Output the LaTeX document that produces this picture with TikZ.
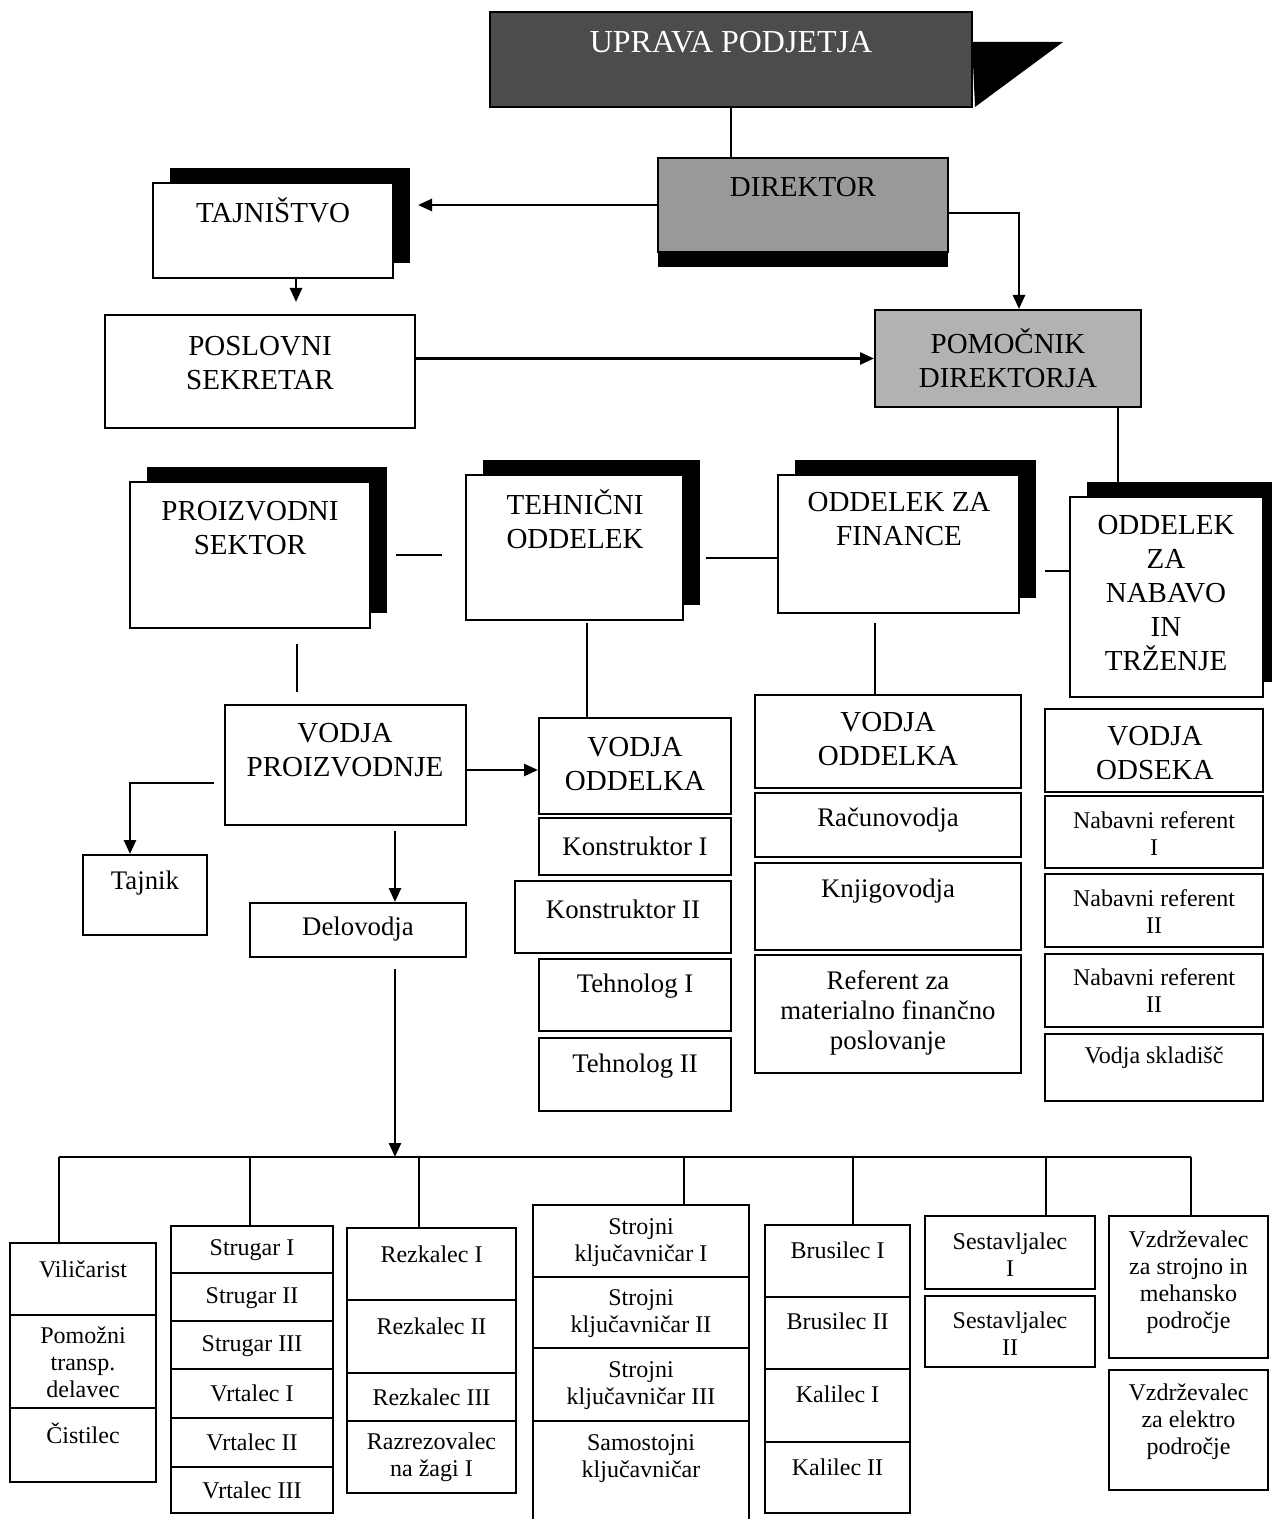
\documentclass[tikz,border=0pt]{standalone}
\usepackage{fontspec}
\setmainfont{Liberation Serif}
\usetikzlibrary{fit,shadows,arrows.meta,positioning}

\tikzset{
  box/.style={draw, line width=1pt, inner sep=0pt, fill=white},
  shadowed/.style={general shadow={fill=black, shadow xshift=8.5pt, shadow yshift=7.5pt}},
  big/.style={font=\fontsize{14.5}{17}\selectfont, align=center},
  mid/.style={font=\fontsize{13.4}{15}\selectfont, align=center},
  small/.style={font=\fontsize{12}{13.5}\selectfont, align=center},
  link/.style={line width=0.9pt},
  arr/.style={line width=1.3pt, -{Triangle[length=7pt,width=6pt]}},
}

\begin{document}
\begin{tikzpicture}[x=0.5pt, y=-0.5pt]
\useasboundingbox (0,0) rectangle (1271,1519);

% management
\fill (972,42) -- (1063,42) -- (975,107) -- cycle;
\node[box, fill=black!70, fit={(490,12)(972,107)}] (upr) {};
\node[big, font=\fontsize{16}{18}\selectfont, text=white] (upr-t) at (731,42) {UPRAVA PODJETJA};
\node[box, fill=black!40, general shadow={fill=black, shadow yshift=-7.5pt}, fit={(658,158)(948,252)}] (dir) {};
\node[big] (dir-t) at (803,187) {DIREKTOR};
\node[box, shadowed, fit={(153,183)(393,278)}] (taj) {};
\node[big] (taj-t) at (273,210) {TAJNIŠTVO};
\node[box, fit={(105,315)(415,428)}] (pos) {};
\node[big] (pos-t) at (260,363) {POSLOVNI\\SEKRETAR};
\node[box, fill=black!30, fit={(875,310)(1141,407)}] (pom) {};
\node[big] (pom-t) at (1008,358) {POMOČNIK\\DIREKTORJA};

% sectors
\node[box, shadowed, fit={(130,482)(370,628)}] (pro) {};
\node[big] (pro-t) at (250,528) {PROIZVODNI\\SEKTOR};
\node[box, shadowed, fit={(466,475)(683,620)}] (teh) {};
\node[big] (teh-t) at (575,519) {TEHNIČNI\\ODDELEK};
\node[box, shadowed, fit={(778,475)(1019,613)}] (fin) {};
\node[big] (fin-t) at (899,519) {ODDELEK ZA\\FINANCE};
\node[box, shadowed, fit={(1070,497)(1263,697)}] (nab) {};
\node[big] (nab-t) at (1166,593) {ODDELEK\\ZA\\NABAVO\\IN\\TRŽENJE};

\node[box, fit={(225,705)(466,825)}] (vpr) {};
\node[big] (vpr-t) at (345,750) {VODJA\\PROIZVODNJE};
\node[box, fit={(539,718)(731,814)}] (vo1) {};
\node[big] (vo1-t) at (635,764) {VODJA\\ODDELKA};
\node[box, fit={(755,695)(1021,788)}] (vo2) {};
\node[big] (vo2-t) at (888,739) {VODJA\\ODDELKA};
\node[box, fit={(1045,709)(1263,792)}] (vo3) {};
\node[big] (vo3-t) at (1155,753) {VODJA\\ODSEKA};

% staff
\foreach \nm/\xa/\ya/\xb/\yb/\yt/\lbl in {
  tjk/83/855/207/935/883/Tajnik,
  del/250/903/466/957/929/Delovodja,
  ko1/539/818/731/875/846/Konstruktor I,
  ko2/515/881/731/953/909/Konstruktor II,
  te1/539/959/731/1031/986/Tehnolog I,
  te2/539/1038/731/1111/1066/Tehnolog II,
  rac/755/793/1021/857/820/Računovodja,
  knj/755/863/1021/950/891/Knjigovodja,
  ref/755/955/1021/1073/1013/{Referent za\\materialno finančno\\poslovanje}}
{
  \node[box, fit={(\xa,\ya)(\xb,\yb)}] (\nm) {};
  \node[mid] (\nm-t) at ({(\xa+\xb)/2},\yt) {\lbl};
}

\foreach \nm/\xa/\ya/\xb/\yb/\yt/\lbl in {
  nr1/1045/796/1263/868/834/{Nabavni referent\\I},
  nr2/1045/874/1263/947/912/{Nabavni referent\\II},
  nr3/1045/954/1263/1027/991/{Nabavni referent\\II},
  skl/1045/1034/1263/1101/1058/Vodja skladišč,
  vil/10/1243/156/1315/1269/Viličarist,
  pmz/10/1315/156/1408/1362/{Pomožni\\transp.\\delavec},
  cis/10/1408/156/1482/1433/Čistilec,
  st1/171/1226/333/1273/1250/Strugar I,
  st2/171/1273/333/1321/1298/Strugar II,
  st3/171/1321/333/1369/1346/Strugar III,
  vr1/171/1369/333/1418/1393/Vrtalec I,
  vr2/171/1418/333/1467/1442/Vrtalec II,
  vr3/171/1467/333/1513/1490/Vrtalec III,
  rz1/347/1228/516/1300/1254/Rezkalec I,
  rz2/347/1300/516/1373/1326/Rezkalec II,
  rz3/347/1373/516/1421/1397/Rezkalec III,
  rz4/347/1421/516/1493/1457/{Razrezovalec\\na žagi I},
  sk1/533/1205/749/1277/1243/{Strojni\\ključavničar I},
  sk2/533/1277/749/1348/1314/{Strojni\\ključavničar II},
  sk3/533/1348/749/1421/1386/{Strojni\\ključavničar III},
  sk4/533/1421/749/1530/1459/{Samostojni\\ključavničar},
  br1/765/1225/910/1297/1250/Brusilec I,
  br2/765/1297/910/1369/1321/Brusilec II,
  br3/765/1369/910/1442/1394/Kalilec I,
  br4/765/1442/910/1513/1467/Kalilec II,
  se1/925/1216/1095/1289/1255/{Sestavljalec\\I},
  se2/925/1296/1095/1367/1334/{Sestavljalec\\II},
  vz1/1109/1216/1268/1358/1282/{Vzdrževalec\\za strojno in\\mehansko\\področje},
  vz2/1109/1370/1268/1490/1422/{Vzdrževalec\\za elektro\\področje}}
{
  \node[box, fit={(\xa,\ya)(\xb,\yb)}] (\nm) {};
  \node[small] (\nm-t) at ({(\xa+\xb)/2},\yt) {\lbl};
}

% connectors
\draw[link] (upr.south) -- (upr.south |- dir.north);
\draw[arr] (dir.west) -- ([xshift=12pt]taj.east |- dir.west);
\draw[arr] ([yshift=-4pt]dir.east) -| ([xshift=5.5pt]pom.north);
\draw[arr, shorten >=6pt] ([xshift=11.5pt]taj.south) -- ([xshift=11.5pt]taj.south |- pos.north);
\draw[arr] (pos.east |- pom.west) -- (pom.west);
\draw[arr, line width=0.9pt] ([xshift=55pt]pom.south) -- ([xshift=55pt]pom.south |- nab.north);

\draw[link] ([xshift=12.5pt]pro.east) -- ([xshift=-11.5pt]teh.west |- pro.east);
\draw[link] ([xshift=11pt,yshift=-7pt]teh.east |- fin.west) -- ([yshift=-7pt]fin.west);
\draw[link] ([xshift=12.5pt,yshift=-13.5pt]fin.east) -- ([yshift=-13.5pt]fin.east -| nab.west);
\draw[link] ([xshift=23.5pt,yshift=-7.5pt]pro.south) -- ([xshift=-24.25pt,yshift=6pt]vpr.north);
\draw[link] ([xshift=6.25pt,yshift=-1pt]teh.south) -- ([xshift=6.25pt]teh.south |- vo1.north);
\draw[link] ([xshift=-11.75pt,yshift=-4.5pt]fin.south) -- ([xshift=-11.75pt]fin.south |- vo2.north);

\draw[arr] ([yshift=-2.5pt]vpr.east) -- ([yshift=-2.5pt]vpr.east -| vo1.west);
\draw[arr] ([xshift=-5pt,yshift=-9pt]vpr.west) -| ([xshift=-7.5pt]tjk.north);
\draw[arr] ([xshift=24.75pt,yshift=-2.5pt]vpr.south) -- ([xshift=24.75pt]vpr.south |- del.north);

% workers
\coordinate (bus) at (0,1157);
\draw[arr] ([xshift=18.5pt,yshift=-5.5pt]del.south) -- ([xshift=18.5pt]del.south |- bus);
\draw[link] ([xshift=-12pt]vil.north |- bus) -- ([xshift=1.25pt]vz1.north |- bus);
\foreach \nm/\dx in {vil/-12, st1/-1, rz1/-6.25, sk1/21.5, br1/7.75, se1/18, vz1/1.25}
  \draw[link] ([xshift=\dx pt]\nm.north |- bus) -- ([xshift=\dx pt]\nm.north);
\end{tikzpicture}
\end{document}
